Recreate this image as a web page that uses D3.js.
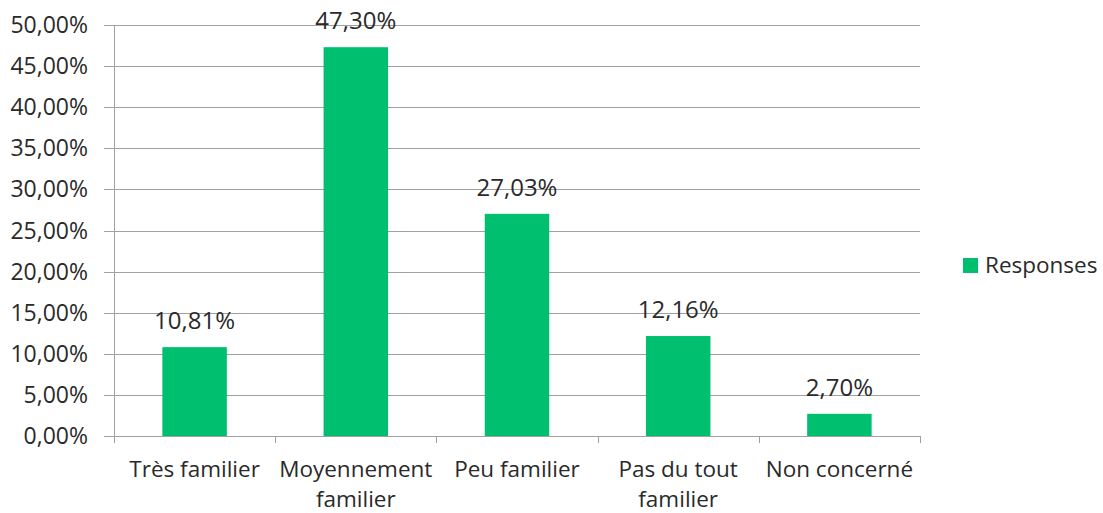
<!DOCTYPE html>
<html>
<head>
<meta charset="utf-8">
<script src="https://cdn.jsdelivr.net/npm/d3@7"></script>
<style>
  html, body { margin: 0; padding: 0; background: #fff; }
  svg { display: block; }
  text { font-family: "Open Sans", sans-serif; fill: #2a2a2a; }
</style>
</head>
<body>
<svg id="chart" width="1103" height="513"></svg>
<script>
const categories = ["Très familier", "Moyennement familier", "Peu familier", "Pas du tout familier", "Non concerné"];
const categoryLines = [["Très familier"], ["Moyennement", "familier"], ["Peu familier"], ["Pas du tout", "familier"], ["Non concerné"]];
const values = [0.1081, 0.4730, 0.2703, 0.1216, 0.0270];
const valueLabels = ["10,81%", "47,30%", "27,03%", "12,16%", "2,70%"];
const yTicks = [0, 0.05, 0.10, 0.15, 0.20, 0.25, 0.30, 0.35, 0.40, 0.45, 0.50];
const seriesName = "Responses";

(function () {
const svg = d3.select("#chart");
const mLeft = 114, mRight = 920, mTop = 25, mBottom = 436;
const fontSize = 22.5;
const green = "#00BF6F";
const gridColor = "#a0a0a0";

const x = d3.scaleBand().domain(categories).range([mLeft, mRight]).paddingInner(0.6).paddingOuter(0.3);
const y = d3.scaleLinear().domain([0, 0.5]).range([mBottom, mTop]);

const fmt = v => (v * 100).toFixed(2).replace(".", ",") + "%";

// gridlines + y tick labels
const yg = svg.append("g");
yg.selectAll("line").data(yTicks).join("line")
  .attr("x1", mLeft - 10).attr("x2", mRight)
  .attr("y1", d => Math.round(y(d)) + 0.5).attr("y2", d => Math.round(y(d)) + 0.5)
  .attr("stroke", gridColor).attr("stroke-width", 1);
yg.selectAll("text").data(yTicks).join("text")
  .attr("x", 88).attr("y", d => y(d) + 8)
  .attr("text-anchor", "end").style("font-size", "23px")
  .text(fmt);

// y axis line
svg.append("line").attr("x1", mLeft + 0.5).attr("x2", mLeft + 0.5)
  .attr("y1", mTop).attr("y2", mBottom).attr("stroke", gridColor);

// x axis ticks at band boundaries
const boundaries = d3.range(categories.length + 1).map(i => mLeft + i * (mRight - mLeft) / categories.length);
svg.append("g").selectAll("line").data(boundaries).join("line")
  .attr("x1", d => Math.round(d) + 0.5).attr("x2", d => Math.round(d) + 0.5)
  .attr("y1", mBottom).attr("y2", mBottom + 7)
  .attr("stroke", gridColor);

// bars
svg.append("g").selectAll("rect").data(values).join("rect")
  .attr("x", (d, i) => x(categories[i]))
  .attr("width", x.bandwidth())
  .attr("y", d => y(d))
  .attr("height", d => y(0) - y(d))
  .attr("fill", green);

// value labels
svg.append("g").selectAll("text").data(values).join("text")
  .attr("x", (d, i) => x(categories[i]) + x.bandwidth() / 2)
  .attr("y", d => y(d) - 18)
  .attr("text-anchor", "middle").style("font-size", "24px")
  .text((d, i) => valueLabels[i]);

// category labels
const cl = svg.append("g").selectAll("text").data(categories).join("text")
  .attr("text-anchor", "middle").style("font-size", fontSize + "px");
cl.each(function(d, i) {
  const t = d3.select(this);
  const cx = x(d) + x.bandwidth() / 2;
  categoryLines[i].forEach((line, j) => {
    t.append("tspan").attr("x", cx).attr("y", 477 + j * 30).text(line);
  });
});

// legend
svg.append("rect").attr("x", 963).attr("y", 258).attr("width", 15).attr("height", 15).attr("fill", green);
svg.append("text").attr("x", 985).attr("y", 273).style("font-size", fontSize + "px").text(seriesName);
})();
</script>
</body>
</html>
